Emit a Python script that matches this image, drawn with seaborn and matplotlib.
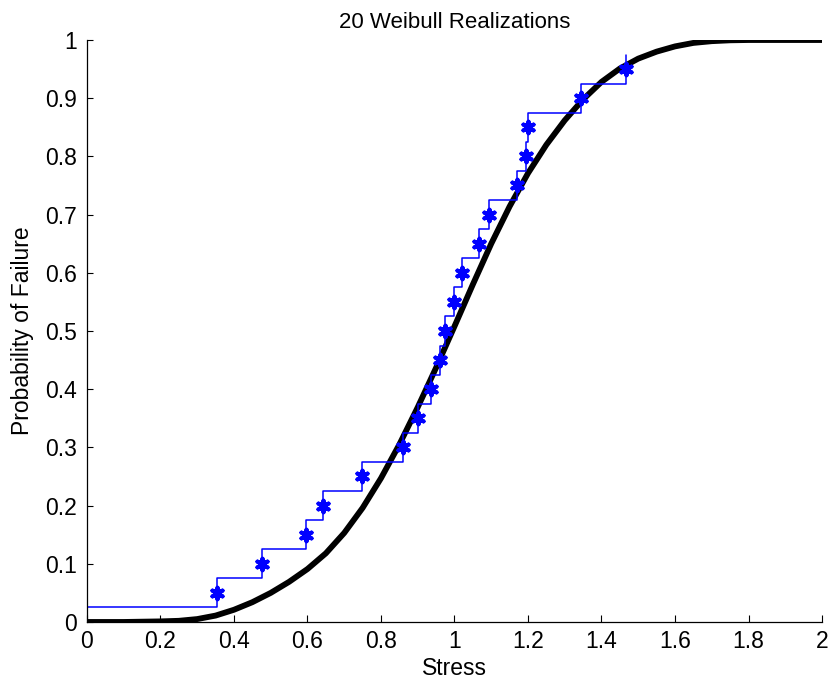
import numpy as np
import matplotlib
matplotlib.use("Agg")
import matplotlib.pyplot as plt
import seaborn as sns
from matplotlib.ticker import FuncFormatter

# fitted Weibull CDF
cdf_x = [0, 0.1, 0.2, 0.25, 0.3, 0.35, 0.4, 0.45, 0.5, 0.55, 0.6, 0.65, 0.7,
         0.75, 0.8, 0.85, 0.9, 0.95, 1.0, 1.05, 1.1, 1.15, 1.2, 1.25, 1.3,
         1.35, 1.4, 1.45, 1.5, 1.55, 1.6, 1.65, 1.7, 1.75, 1.8, 2.0]
cdf_y = [0, 0, 0.001, 0.002, 0.005, 0.011, 0.021, 0.034, 0.050, 0.069, 0.091,
         0.118, 0.153, 0.196, 0.247, 0.305, 0.369, 0.437, 0.508, 0.580, 0.650,
         0.714, 0.771, 0.820, 0.862, 0.898, 0.928, 0.951, 0.968, 0.980, 0.989,
         0.995, 0.998, 0.9995, 1.0, 1.0]

# sorted realizations and their plotting positions
stress = [0.355, 0.475, 0.597, 0.643, 0.748, 0.86, 0.90, 0.935, 0.96, 0.975,
          1.0, 1.021, 1.067, 1.093, 1.171, 1.195, 1.2, 1.345, 1.468]
prob = [0.05, 0.10, 0.15, 0.20, 0.25, 0.30, 0.35, 0.40, 0.45, 0.50,
        0.55, 0.60, 0.65, 0.70, 0.75, 0.80, 0.85, 0.90, 0.95]

# staircase
step_x = [0] + stress
step_y = [0.025, 0.075, 0.125, 0.175, 0.225, 0.275, 0.325, 0.375, 0.425, 0.475,
          0.525, 0.575, 0.625, 0.675, 0.725, 0.775, 0.825, 0.875, 0.925, 0.975]

sns.set_style("ticks")
plt.rcParams["font.family"] = ["Liberation Sans", "DejaVu Sans"]
plt.rcParams["font.size"] = 16.5
for k in ["text.color", "axes.labelcolor", "xtick.color", "ytick.color"]:
    plt.rcParams[k] = "black"

fig = plt.figure(figsize=(8.33, 6.85), dpi=100)
ax = fig.add_axes([0.1044, 0.092, 0.8824, 0.8496])

sns.lineplot(x=cdf_x, y=cdf_y, ax=ax, color="black", linewidth=4.2,
             estimator=None, sort=False, solid_joinstyle="round",
             solid_capstyle="butt")
sns.lineplot(x=step_x, y=step_y, ax=ax, color="#0000ff", linewidth=1.1,
             estimator=None, sort=False, drawstyle="steps-post")
sns.scatterplot(x=stress, y=prob, ax=ax, marker=(6, 2, 0), s=70,
                color="#0000ff", linewidth=2.9, zorder=5)

ax.set_xlim(0, 2)
ax.set_ylim(0, 1)
ax.set_xticks(np.arange(0, 2.01, 0.2))
ax.set_yticks(np.arange(0, 1.01, 0.1))
fmt = FuncFormatter(lambda v, p: "%g" % round(v, 2))
ax.xaxis.set_major_formatter(fmt)
ax.yaxis.set_major_formatter(fmt)
ax.tick_params(axis="x", direction="in", length=5, width=0.8, pad=6)
ax.tick_params(axis="y", direction="in", length=4, width=0.8, pad=7)

sns.despine(ax=ax)
for s in ["left", "bottom"]:
    ax.spines[s].set_linewidth(0.9)
    ax.spines[s].set_color("black")

ax.set_xlabel("Stress", labelpad=3)
ax.set_ylabel("Probability of Failure", labelpad=8)
ax.set_title("20 Weibull Realizations", fontsize=16, pad=9)

fig.savefig("out.png", dpi=100, facecolor="white")
